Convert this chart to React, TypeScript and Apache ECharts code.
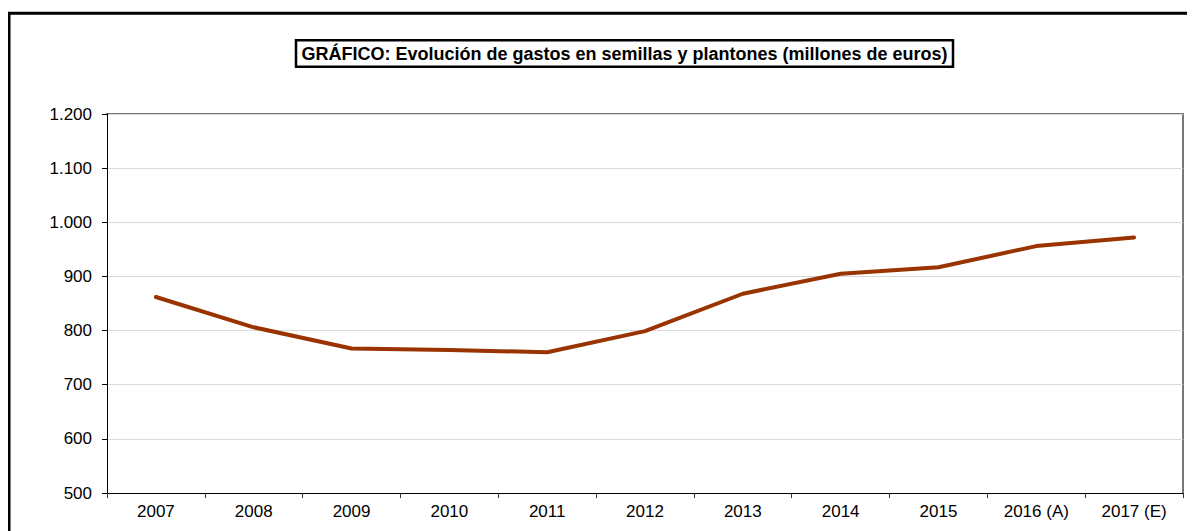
import React, { useEffect, useRef } from "react";
import * as echarts from "echarts";

const categories = ["2007", "2008", "2009", "2010", "2011", "2012", "2013", "2014", "2015", "2016 (A)", "2017 (E)"];
const gastos = [862, 806, 767, 764, 760, 799, 868, 905, 917, 956, 972];
const yMin = 500;
const yMax = 1200;
const yStep = 100;
const titleText = "GRÁFICO: Evolución de gastos en semillas y plantones (millones de euros)";

const fmt = (v: number) => String(v).replace(/\B(?=(\d{3})+(?!\d))/g, ".");

export default function App() {
  const ref = useRef<HTMLDivElement>(null);
  useEffect(() => {
    if (!ref.current) return;
    const chart = echarts.init(ref.current, undefined, { renderer: "svg" });
    const font = "'Liberation Sans', Arial, sans-serif";
    chart.setOption({
      animation: false,
      backgroundColor: "#fff",
      grid: { left: 99, right: 12, top: 106, bottom: 38, containLabel: false },
      graphic: [
        {
          type: "rect",
          shape: { x: 1, y: 5.2, width: 3000, height: 2000 },
          style: { fill: "none", stroke: "#000", lineWidth: 3 },
          silent: true,
        },
        {
          type: "rect",
          shape: { x: 288, y: 32.2, width: 657, height: 26.5 },
          style: { fill: "#fff", stroke: "#000", lineWidth: 2.5 },
          silent: true,
        },
        {
          type: "text",
          x: 616.5,
          y: 45.5,
          style: {
            text: titleText,
            align: "center",
            verticalAlign: "middle",
            fill: "#000",
            font: "bold 18px 'Liberation Sans Narrow', 'Arial Narrow', 'Liberation Sans', sans-serif",
          },
          silent: true,
        },
      ],
      xAxis: [
        {
          type: "category",
          data: categories,
          boundaryGap: true,
          axisLine: { lineStyle: { color: "#000", width: 1 } },
          axisTick: { show: true, length: 5, lineStyle: { color: "#333" } },
          axisLabel: { color: "#000", fontSize: 17, fontFamily: font, margin: 10, interval: 0 },
          splitLine: { show: false },
          z: 5,
        },
        {
          type: "category",
          data: categories,
          position: "top",
          boundaryGap: true,
          axisLine: { lineStyle: { color: "#777", width: 2 } },
          axisTick: { show: false },
          axisLabel: { show: false },
        },
      ],
      yAxis: [
        {
          type: "value",
          min: yMin,
          max: yMax,
          interval: yStep,
          axisLine: { show: true, lineStyle: { color: "#000", width: 1 } },
          axisTick: { show: true, length: 5, lineStyle: { color: "#000" } },
          axisLabel: { color: "#000", fontSize: 17, fontFamily: font, margin: 15, formatter: (v: number) => fmt(v) },
          splitLine: { show: true, lineStyle: { color: "#d9d9d9", width: 1 } },
          z: 5,
        },
        {
          type: "value",
          min: yMin,
          max: yMax,
          interval: yStep,
          position: "right",
          axisLine: { show: true, lineStyle: { color: "#777", width: 2 } },
          axisTick: { show: false },
          axisLabel: { show: false },
          splitLine: { show: false },
        },
      ],
      series: [
        {
          type: "line",
          data: gastos,
          xAxisIndex: 0,
          yAxisIndex: 0,
          symbol: "none",
          lineStyle: { color: "#993300", width: 4, cap: "round", join: "round" },
          itemStyle: { color: "#993300" },
          z: 10,
        },
      ],
    });
    return () => chart.dispose();
  }, []);
  return <div ref={ref} style={{ width: 1187, height: 523 }} />;
}
